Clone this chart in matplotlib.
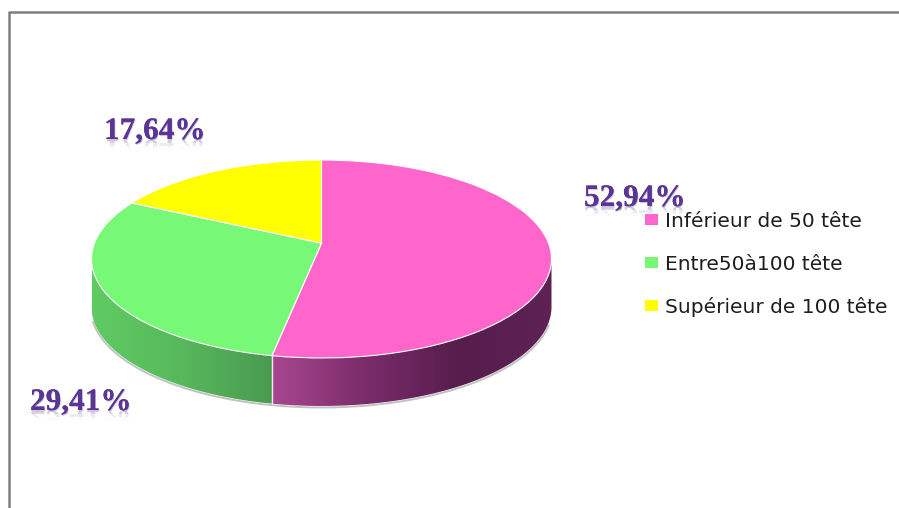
import numpy as np
import matplotlib
matplotlib.use("Agg")
import matplotlib.pyplot as plt
from matplotlib.colors import LinearSegmentedColormap
from matplotlib.lines import Line2D
from matplotlib.patches import PathPatch, Patch, Rectangle
from matplotlib.path import Path
from matplotlib.textpath import TextPath
from matplotlib.font_manager import FontProperties
from matplotlib.transforms import Affine2D, Transform
import matplotlib.patheffects as pe

categories = ["Inférieur de 50 tête", "Entre50à100 tête", "Supérieur de 100 tête"]
values = [52.94, 29.41, 17.64]
value_labels = ["52,94%", "29,41%", "17,64%"]
colors = ["#FF66CC", "#77F977", "#FFFF00"]
side_stops = [["#A8468F", "#7A2C6A", "#561D4C", "#5E2255"],
              ["#4A9A50", "#57B85C", "#5FCB62"],
              ["#CCCC00", "#CCCC00"]]

W, H = 899, 508
CX, CY, RX, RY, DEPTH = 321.5, 259.0, 230.0, 99.0, 48.0
APEX = 0.16  # perspective shift of the pie centre


class Perspective(Transform):
    input_dims = output_dims = 2

    def transform_non_affine(self, xy):
        xy = np.asarray(xy, float)
        u, v = xy[:, 0], xy[:, 1]
        den = 1 + APEX * v
        return np.c_[u * np.sqrt(1 - APEX ** 2) / den, (v + APEX) / den]

    def transform_path_non_affine(self, path):
        p = path.interpolated(1) if path.codes is None else path
        return Path(self.transform_non_affine(p.vertices), p.codes)


proj = Perspective()
fig = plt.figure(figsize=(W / 100, H / 100), dpi=100, facecolor="white")
ax = fig.add_axes([0, 0, 1, 1])


def u(px, py):
    return (px - CX) / RX, (CY - py) / RY


d = DEPTH / RY

# soft shadow rim beneath the disc
t = np.radians(np.linspace(100, 262, 200))
ax.plot(np.sin(t) * 1.003, np.cos(t) * 1.003 - d - 0.012, color="#C2C2C2", lw=1.4, zorder=1)

# top face of the pie, clockwise from 12 o'clock
wedges, _ = ax.pie(values, colors=colors, startangle=90, counterclock=False, radius=1,
                   wedgeprops=dict(edgecolor="white", linewidth=0.8, zorder=5))
for w in wedges:
    w.set_transform(proj + ax.transData)

# side wall, one gradient per visible slice
edges = np.cumsum([0] + values) / sum(values) * 2 * np.pi
for i in range(len(values)):
    a = np.linspace(edges[i], edges[i + 1], 300)
    pts = proj.transform_non_affine(np.c_[np.sin(a), np.cos(a)])
    pts = pts[pts[:, 1] <= 0]
    if len(pts) < 2:
        continue
    x, y = pts[:, 0], pts[:, 1]
    verts = np.r_[np.c_[x, y], np.c_[x[::-1], y[::-1] - d], [[x[0], y[0]]]]
    clip = PathPatch(Path(verts), transform=ax.transData, fc="none", ec="none")
    ax.add_patch(clip)
    cmap = LinearSegmentedColormap.from_list(f"side{i}", side_stops[i])
    grad = np.linspace(0, 1, 256).reshape(1, -1)
    if i == 0:
        ext = [x.min(), x.max(), y.min() - d, y.max()]
    else:
        ext = [x.max(), x.min(), y.min() - d, y.max()]
    im = ax.imshow(grad, cmap=cmap, extent=ext, aspect="auto", zorder=3, origin="lower")
    im.set_clip_path(clip)

ax.set_aspect("auto")
ax.set_xlim(-CX / RX, (W - CX) / RX)
ax.set_ylim(-(H - CY) / RY, CY / RY)
ax.axis("off")

# white seam between the side walls
seam = proj.transform_non_affine(np.array([[np.sin(edges[1]), np.cos(edges[1])]]))[0]
ax.plot([seam[0]] * 2, [seam[1], seam[1] - d], color="#F4E6F0", lw=1.0, zorder=4)

# value labels with faded reflection
label_pos = [(584, 206), (30, 410), (104, 139)]
fp = FontProperties(family="Liberation Serif", weight="bold", size=22.5)
for s, (px, py) in zip(value_labels, label_pos):
    x, y = u(px, py)
    ax.text(x, y, s, fontproperties=fp, color="#5A3596", ha="left", va="baseline", zorder=8,
            path_effects=[pe.withSimplePatchShadow(offset=(0.6, -0.8), shadow_rgbFace="#8C7FA8", alpha=0.45),
                          pe.Normal()])
    tp = TextPath((0, 0), s, prop=fp, size=22.5 * 100 / 72)
    m = Affine2D().scale(1, -0.8).translate(px, H - py - 1)
    for h, al in ((3, 0.22), (6, 0.12), (9, 0.05)):
        rf = PathPatch(tp, fc="#8A7BA8", ec="none", alpha=al, zorder=7)
        ax.add_patch(rf)
        rf.set_transform(m)
        rf.set_clip_path(Rectangle((px - 2, H - py - 1 - h), 120, h, transform=None))

# legend
handles = [Patch(fc=c, ec=c, lw=0) for c in colors]
fig.legend(handles, categories, loc="upper left", bbox_to_anchor=(645 / W, 1 - 212 / H),
           frameon=False, fontsize=14.5, labelspacing=1.17, handletextpad=0.35,
           handlelength=0.63, handleheight=0.46, borderpad=0, borderaxespad=0,
           labelcolor="#1E1E1E")

# outer frame
fig.add_artist(Line2D([8.5 / W, 8.5 / W, 1], [0, 1 - 11.5 / H, 1 - 11.5 / H],
                      color="#7F7F7F", lw=1.8, transform=fig.transFigure))

fig.savefig("out.png", dpi=100, facecolor="white")
